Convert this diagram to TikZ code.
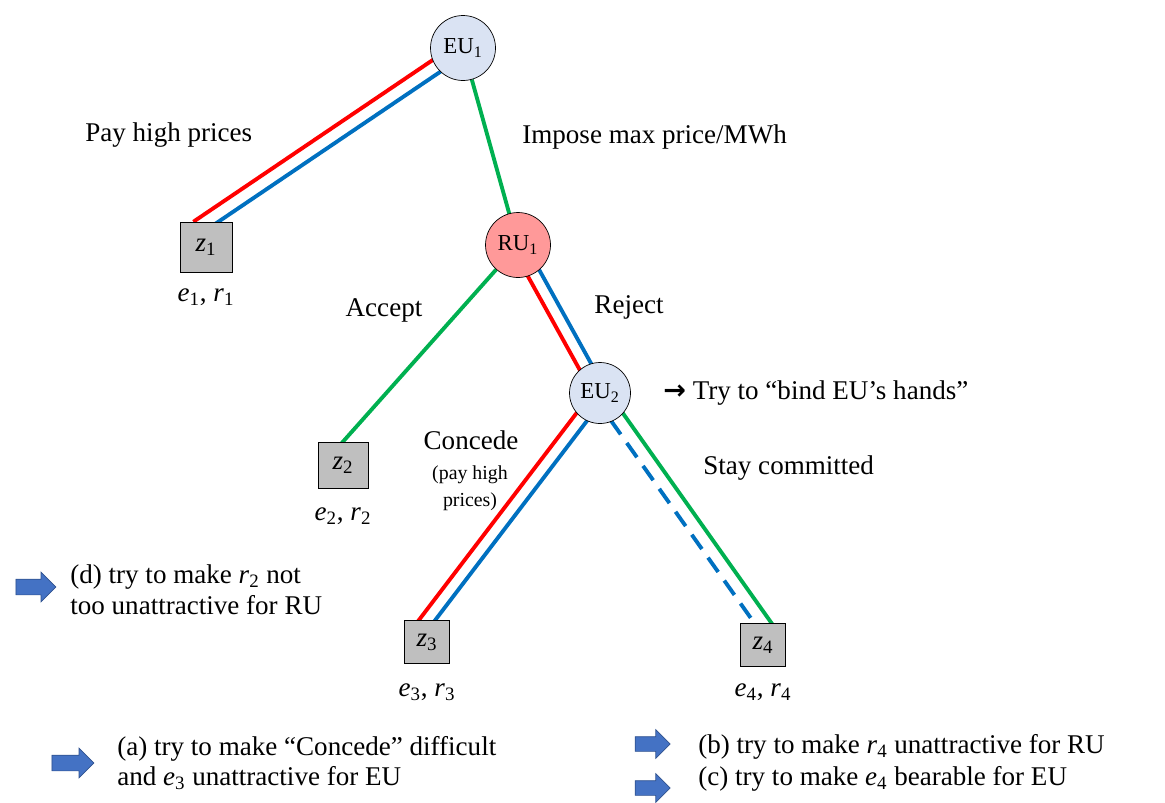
\documentclass[tikz,border=0pt]{standalone}
\usepackage{fontspec}
\setmainfont{Liberation Serif}
\newfontfamily\symfont{DejaVu Sans}
\usetikzlibrary{calc,shapes.arrows,backgrounds,positioning}

\definecolor{eufill}{HTML}{DAE3F3}
\definecolor{rufill}{HTML}{FF9999}
\definecolor{leafgray}{HTML}{BFBFBF}
\definecolor{lred}{HTML}{FF0000}
\definecolor{lblue}{HTML}{0070C0}
\definecolor{lgreen}{HTML}{00B050}
\definecolor{arrfill}{HTML}{4472C4}
\definecolor{arrdraw}{HTML}{2F528F}

\newcommand{\pay}[2]{\textit{#1}\textsubscript{#2}}

\begin{document}
\begin{tikzpicture}[x=0.02cm, y=-0.02cm,
    every node/.style={font=\fontsize{15.4}{17.5}\selectfont},
    player/.style={draw, circle, minimum size=1.3cm, inner sep=0pt, font=\fontsize{13}{15}\selectfont},
    leaf/.style={draw, fill=leafgray, minimum width=0.9cm, minimum height=0.86cm, inner sep=0pt},
    edge/.style={line width=2.2pt},
    label/.style={inner sep=0pt},
    small/.style={font=\fontsize{11.3}{15.3}\selectfont, align=center},
    hint/.style={anchor=west, align=left, inner sep=0pt},
    bluearrow/.style={single arrow, draw=arrdraw, fill=arrfill, inner xsep=0pt, inner ysep=0.15cm,
        minimum height=0.8cm, minimum width=1pt, single arrow head extend=0.14cm}
]
        \useasboundingbox (0,0) rectangle (1165,802);

        % players
        \node[player, fill=eufill] (EU1) at (463,48) {EU\textsubscript{1}};
        \node[player, fill=rufill] (RU1) at (518,245) {RU\textsubscript{1}};
        \node[player, fill=eufill, minimum size=1.22cm] (EU2) at (600,393) {EU\textsubscript{2}};

        % outcomes
        \node[leaf, minimum width=1.04cm, minimum height=1cm] (z1) at (206,247) {\pay{z}{1}};
        \node[leaf, minimum width=1cm, minimum height=0.92cm] (z2) at (343,465) {\pay{z}{2}};
        \node[leaf] (z3) at (427,642) {\pay{z}{3}};
        \node[leaf] (z4) at (763,645) {\pay{z}{4}};

        \node (p1) at (206,297) {\pay{e}{1}, \pay{r}{1}};
        \node (p2) at (343,516) {\pay{e}{2}, \pay{r}{2}};
        \node (p3) at (427,692) {\pay{e}{3}, \pay{r}{3}};
        \node (p4) at (763,692) {\pay{e}{4}, \pay{r}{4}};

        % edges
        \begin{scope}[on background layer, shorten >=-6pt]
        \draw[edge, lred]  ($(EU1)!0.14cm!-90:(z1.north)$) -- ($(z1.north)!0.14cm!90:(EU1)$);
        \draw[edge, lblue] ($(EU1)!0.14cm!90:(z1.north)$) -- ($(z1.north)!0.14cm!-90:(EU1)$);
        \draw[edge, lgreen] (EU1) -- (RU1);
        \draw[edge, lgreen] (RU1) -- (z2.north);
        \draw[edge, lred]  ($(RU1)!0.13cm!-90:(EU2)$) -- ($(EU2)!0.13cm!90:(RU1)$);
        \draw[edge, lblue] ($(RU1)!0.13cm!90:(EU2)$) -- ($(EU2)!0.13cm!-90:(RU1)$);
        \draw[edge, lred]  ($(EU2)!0.13cm!-90:(z3.north)$) -- ($(z3.north)!0.13cm!90:(EU2)$);
        \draw[edge, lblue] ($(EU2)!0.13cm!90:(z3.north)$) -- ($(z3.north)!0.13cm!-90:(EU2)$);
        \draw[edge, lblue, dash pattern=on 10pt off 6pt] ($(EU2)!0.14cm!-90:(z4.north)$) -- ($(z4.north)!0.14cm!90:(EU2)$);
        \draw[edge, lgreen] ($(EU2)!0.14cm!90:(z4.north)$) -- ($(z4.north)!0.14cm!-90:(EU2)$);
        \end{scope}

        % actions
        \node[label, anchor=west] (payL) at (85,135) {Pay high prices};
        \node[label, anchor=west] (imposeL) at (522,137) {Impose max price/MWh};
        \node[label] (acceptL) at (384,310) {Accept};
        \node[label] (rejectL) at (629,307) {Reject};
        \node[label, anchor=west] (bindL) at (663,393) {{\symfont\bfseries →} Try to “bind EU’s hands”};
        \node[label] (concL) at (471,440) {Concede};
        \node[small] (concN) at (470,488) {(pay high\\prices)};
        \node[label, anchor=west] (stayL) at (703,468) {Stay committed};

        % hints
        \node[bluearrow] (arrD) at (32,587) {};
        \node[hint] (hintD) at (70,590) {(d) try to make \pay{r}{2} not\\too unattractive for RU};
        \node[bluearrow, minimum height=0.84cm] (arrA) at (69,763) {};
        \node[hint] (hintA) at (117,763) {(a) try to make “Concede” difficult\\and \pay{e}{3} unattractive for EU};
        \node[bluearrow, minimum height=0.7cm, inner ysep=0.14cm] (arrB) at (649,744) {};
        \node[hint] (hintB) at (698,747) {(b) try to make \pay{r}{4} unattractive for RU};
        \node[bluearrow, minimum height=0.7cm, inner ysep=0.14cm] (arrC) at (649,788) {};
        \node[hint] (hintC) at (698,779) {(c) try to make \pay{e}{4} bearable for EU};
\end{tikzpicture}
\end{document}
